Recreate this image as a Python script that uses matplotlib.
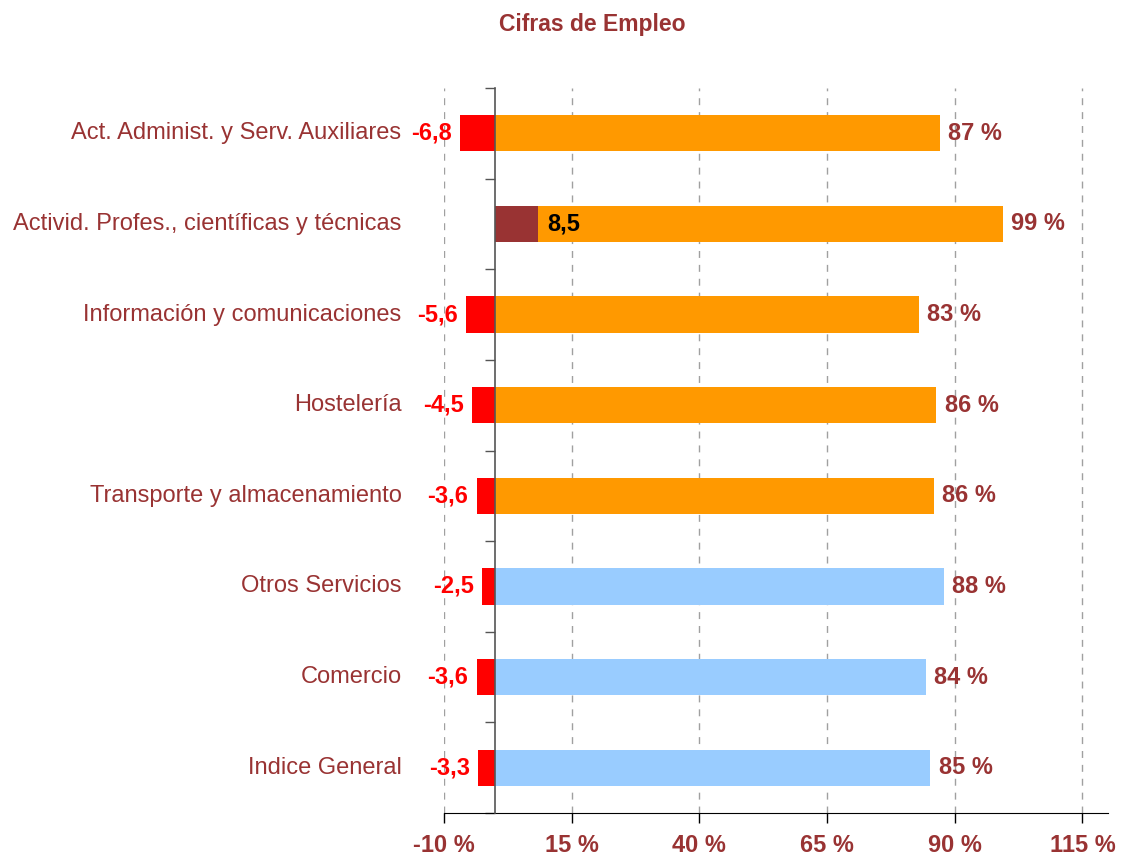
import matplotlib
matplotlib.use("Agg")
import matplotlib.pyplot as plt

plt.rcParams['font.family'] = ['Liberation Sans', 'DejaVu Sans']

# datos, de arriba a abajo
categorias = ["Act. Administ. y Serv. Auxiliares",
              "Activid. Profes., científicas y técnicas",
              "Información y comunicaciones",
              "Hostelería",
              "Transporte y almacenamiento",
              "Otros Servicios",
              "Comercio",
              "Indice General"]
variacion = [-6.8, 8.5, -5.6, -4.5, -3.6, -2.5, -3.6, -3.3]
porcentaje = [87.1, 99.4, 83.0, 86.4, 85.9, 87.9, 84.4, 85.2]
grupo = ["naranja"] * 5 + ["azul"] * 3
xticks = [-10, 15, 40, 65, 90, 115]

granate = "#993333"
colores = {"naranja": "#FF9900", "azul": "#99CCFF"}

fig = plt.figure(figsize=(11.22, 8.61), dpi=100)
ax = fig.add_axes([444/1122, 1 - 813/861, (1108 - 444)/1122, (813 - 88)/861])

n = len(categorias)
ypos = [n - 1 - i for i in range(n)]
h = 0.4

for y, cat, v, p, g in zip(ypos, categorias, variacion, porcentaje, grupo):
    ax.barh(y, p, height=h, color=colores[g], zorder=2)
    if v < 0:
        ax.barh(y, v, height=h, color="#FF0000", zorder=3)
        ax.annotate(f"{v:.1f}".replace(".", ","), (v, y), xytext=(-6, 0),
                    textcoords="offset points", ha="right", va="center",
                    color="#FF0000", fontsize=17, fontweight="bold")
    else:
        ax.barh(y, v, height=h, color=granate, zorder=3)
        ax.annotate(f"{v:.1f}".replace(".", ","), (v, y), xytext=(6, 0),
                    textcoords="offset points", ha="left", va="center",
                    color="black", fontsize=17, fontweight="bold", zorder=4)
    ax.annotate(f"{p:.0f} %", (p, y), xytext=(6, 0), textcoords="offset points",
                ha="left", va="center", color=granate, fontsize=17, fontweight="bold")
    ax.text(-18.3, y, cat, ha="right", va="center", color=granate, fontsize=17,
            clip_on=False)

ax.set_xlim(-10, 120)
ax.set_ylim(-0.5, n - 0.5)

ax.set_xticks(xticks)
ax.set_xticklabels([f"{t} %" for t in xticks], fontsize=17, fontweight="bold", color=granate)
ax.tick_params(axis="x", length=7, width=1, pad=8, colors="black", labelcolor=granate)

ax.set_yticks([k - 0.5 for k in range(n + 1)])
ax.set_yticklabels([])
ax.tick_params(axis="y", length=7, width=1, direction="out", color="#555555")

ax.spines["left"].set_position(("data", 0))
ax.spines["left"].set_color("#555555")
ax.spines["left"].set_linewidth(1.2)
ax.spines["left"].set_zorder(5)
ax.spines["top"].set_visible(False)
ax.spines["right"].set_visible(False)
ax.spines["bottom"].set_color("black")

ax.xaxis.grid(True, color="#A0A0A0", linestyle=(0, (5, 5)), linewidth=1)
ax.set_axisbelow(True)

fig.text(592/1122, 1 - 25/861, "Cifras de Empleo", ha="center", va="center",
         color=granate, fontsize=16.5, fontweight="bold")

fig.savefig("out.png", dpi=100)
